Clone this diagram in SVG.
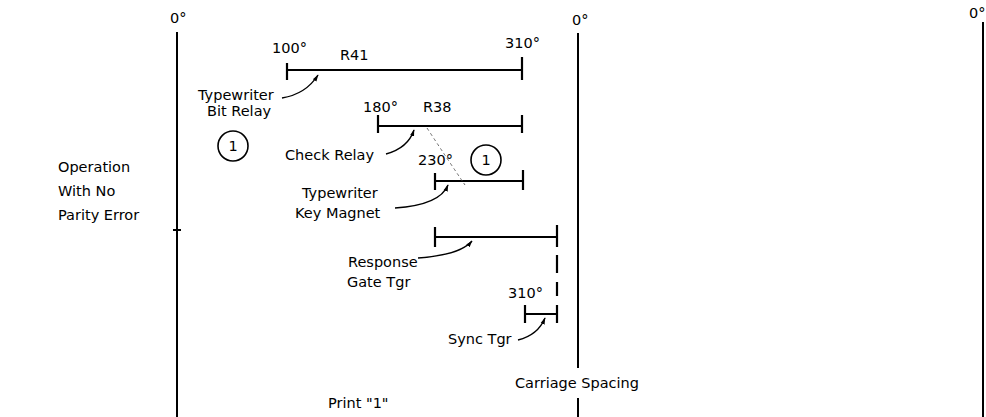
<svg xmlns="http://www.w3.org/2000/svg" width="986" height="417" viewBox="0 0 986 417">
<style>
text{font-family:"DejaVu Sans","Liberation Sans",sans-serif;font-size:14.5px;fill:#000}
.ln{stroke:#000;stroke-width:2;fill:none}
.bar{stroke:#000;stroke-width:2.2;fill:none}
.ldr{stroke:#000;stroke-width:1.4;fill:none;marker-end:url(#ah)}
.dsh{stroke:#555;stroke-width:0.9;fill:none;stroke-dasharray:3 3}
.circ{stroke:#000;stroke-width:1.6;fill:none}
</style>
<defs>
<marker id="ah" viewBox="0 0 10 10" refX="9" refY="5" markerWidth="7" markerHeight="7" markerUnits="userSpaceOnUse" orient="auto">
<path d="M0,2 L10,5 L0,8 Z" fill="#000"/>
</marker>
</defs>
<rect width="986" height="417" fill="#fff"/>
<g id="axes">
<line class="ln" x1="177" y1="32" x2="177" y2="417"/>
<line class="ln" x1="173" y1="230" x2="181" y2="230"/>
<line class="ln" x1="578" y1="33" x2="578" y2="368"/>
<line class="ln" x1="578" y1="398" x2="578" y2="417"/>
<line class="ln" x1="983" y1="22" x2="983" y2="417"/>
<text x="170" y="23">0°</text>
<text x="572" y="25">0°</text>
<text x="969" y="18">0°</text>
</g>
<g id="side-label">
<text x="58" y="172">Operation</text>
<text x="58" y="196">With No</text>
<text x="58" y="220">Parity Error</text>
</g>
<g id="r41">
<path class="bar" d="M287,70 H522 M287,63 V80 M522,57 V80"/>
<text x="272" y="53">100°</text>
<text x="505" y="48">310°</text>
<text x="340" y="60">R41</text>
<text x="198" y="100">Typewriter</text>
<text x="207" y="116">Bit Relay</text>
</g>
<g id="circle-left">
<circle class="circ" cx="233" cy="146" r="15"/>
<text x="233" y="151" text-anchor="middle">1</text>
</g>
<g id="r38">
<path class="bar" d="M378,126 H522 M378,115 V133 M522,115 V133"/>
<text x="363" y="112">180°</text>
<text x="423" y="112">R38</text>
<text x="285" y="160">Check Relay</text>
</g>
<g id="key-magnet">
<path class="bar" d="M435,181 H523 M435,173 V190 M523,170 V190"/>
<text x="418" y="165">230°</text>
<circle class="circ" cx="486" cy="160" r="15"/>
<text x="486" y="165" text-anchor="middle">1</text>
<text x="302" y="198">Typewriter</text>
<text x="295" y="218">Key Magnet</text>
</g>
<g id="response-gate">
<path class="bar" d="M435,237 H557 M435,227 V247 M557,225 V247"/>
<path class="bar" d="M557,255 V273 M557,282 V296"/>
<text x="348" y="267">Response</text>
<text x="347" y="287">Gate Tgr</text>
</g>
<g id="sync">
<path class="bar" d="M525,314 H557 M525,305 V323 M557,305 V323"/>
<text x="508" y="298">310°</text>
<text x="448" y="344">Sync Tgr</text>
</g>
<g id="bottom-labels">
<text x="515" y="388">Carriage Spacing</text>
<text x="328" y="408">Print "1"</text>
</g>
<g id="connectors">
<path class="ldr" d="M282,98 Q306,94 318,75"/>
<path class="ldr" d="M386,154 Q408,148 414,130"/>
<path class="ldr" d="M395,208 Q440,205 448,185"/>
<path class="ldr" d="M418,258 Q460,255 472,241"/>
<path class="ldr" d="M518,340 Q538,335 545,318"/>
<path class="dsh" d="M427,128 Q448,160 465,185"/>
</g>
</svg>
